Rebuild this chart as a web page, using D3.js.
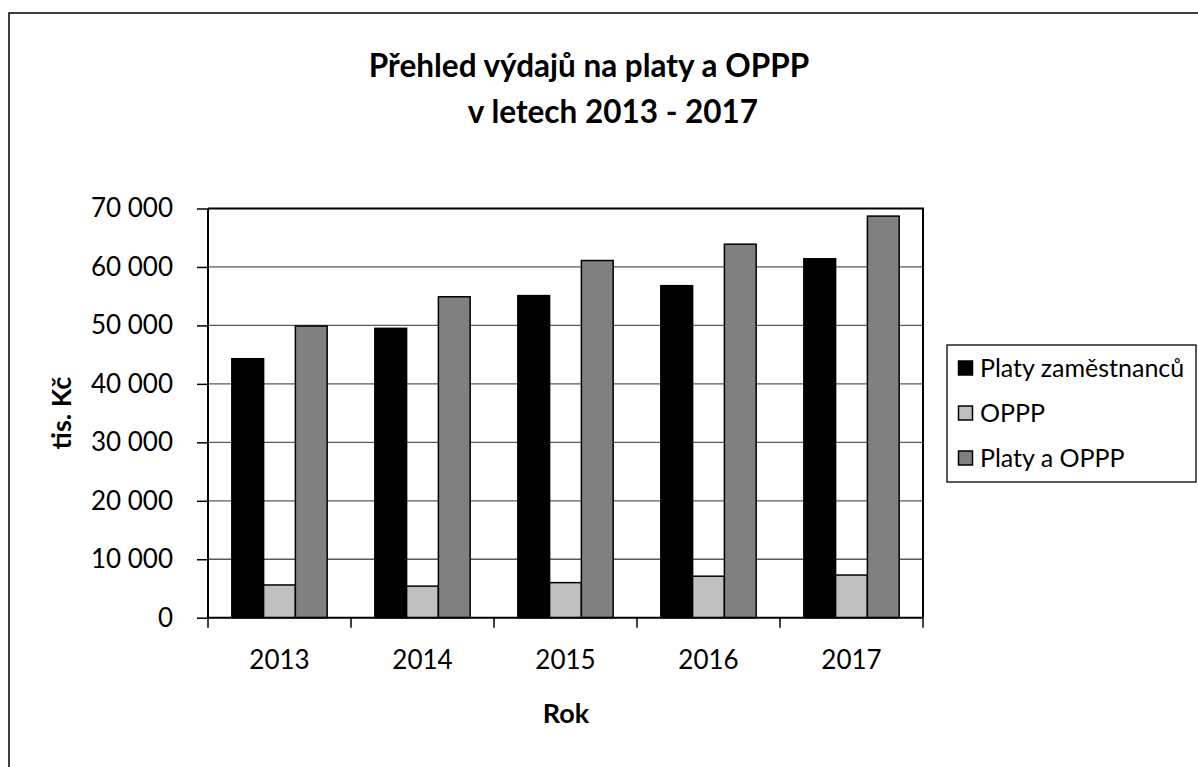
<!DOCTYPE html>
<html>
<head>
<meta charset="utf-8">
<script src="https://cdn.jsdelivr.net/npm/d3@7"></script>
<style>
  body { margin: 0; background: #fff; }
  svg { display: block; font-family: Lato, "Open Sans", sans-serif; }
</style>
</head>
<body>
<div id="chart"></div>
<script>
// data (tis. Kč)
const years = ["2013", "2014", "2015", "2016", "2017"]
const seriesNames = ["Platy zaměstnanců", "OPPP", "Platy a OPPP"]
const platy = [44300, 49500, 55100, 56800, 61400]
const oppp = [5600, 5400, 6000, 7100, 7300]
const platyAOppp = [49900, 54900, 61100, 63900, 68700]
const yTicks = [0, 10000, 20000, 30000, 40000, 50000, 60000, 70000]
const seriesColors = ["#000000", "#c0c0c0", "#808080"]

const W = 1198, H = 767
const plot = { left: 208, right: 923, top: 208.5, bottom: 617.7 }

const svg = d3.select("#chart").append("svg")
    .attr("width", W)
    .attr("height", H)

svg.append("rect").attr("width", W).attr("height", H).attr("fill", "#fff")

// chart area border
svg.append("rect")
    .attr("x", 9).attr("y", 13)
    .attr("width", W + 20).attr("height", H + 20)
    .attr("fill", "none")
    .attr("stroke", "#000")
    .attr("stroke-width", 1.5)

// title
svg.append("text")
    .attr("x", 589).attr("y", 77)
    .attr("text-anchor", "middle")
    .attr("font-weight", "bold")
    .attr("font-size", 31.5)
    .text("Přehled výdajů na platy a OPPP")
svg.append("text")
    .attr("x", 613).attr("y", 123)
    .attr("text-anchor", "middle")
    .attr("font-weight", "bold")
    .attr("font-size", 31.5)
    .text("v letech 2013 - 2017")

const x = d3.scaleBand()
    .domain(years)
    .range([plot.left, plot.right])
    .padding(0)

const xs = d3.scaleBand()
    .domain(seriesNames)
    .range([0, x.bandwidth()])
    .paddingInner(0)
    .paddingOuter(0.75)

const y = d3.scaleLinear()
    .domain([0, 70000])
    .range([plot.bottom, plot.top])

const loc = d3.formatLocale({ decimal: ",", thousands: "\u00a0", grouping: [3], currency: ["", ""] })
const fmt = loc.format(",d")

// gridlines
svg.append("g")
    .selectAll("line")
    .data(yTicks.filter(t => t > 0 && t < 70000))
    .join("line")
    .attr("x1", plot.left).attr("x2", plot.right)
    .attr("y1", d => y(d)).attr("y2", d => y(d))
    .attr("stroke", "#5a5a5a")
    .attr("stroke-width", 1.3)

// bars
const rows = years.map((yr, i) => ({ year: yr, values: [platy[i], oppp[i], platyAOppp[i]] }))

const groups = svg.append("g")
    .selectAll("g")
    .data(rows)
    .join("g")
    .attr("transform", d => `translate(${x(d.year)},0)`)

groups.selectAll("rect")
    .data(d => d.values.map((v, j) => ({ name: seriesNames[j], value: v, color: seriesColors[j] })))
    .join("rect")
    .attr("x", d => xs(d.name))
    .attr("width", xs.bandwidth())
    .attr("y", d => y(d.value))
    .attr("height", d => y(0) - y(d.value))
    .attr("fill", d => d.color)
    .attr("stroke", "#000")
    .attr("stroke-width", 1.5)

// plot frame (top + right)
svg.append("path")
    .attr("d", `M${plot.left},${plot.top}H${plot.right}V${plot.bottom}`)
    .attr("fill", "none")
    .attr("stroke", "#000")
    .attr("stroke-width", 2)

// y axis
const yAxis = svg.append("g")
    .attr("transform", `translate(${plot.left},0)`)
    .call(d3.axisLeft(y).tickValues(yTicks).tickSize(11).tickPadding(24).tickFormat(fmt))
yAxis.select(".domain").attr("stroke-width", 2).attr("d", `M0,${plot.top}V${plot.bottom}`)
yAxis.selectAll(".tick line").attr("stroke-width", 1.5)
yAxis.selectAll(".tick text")
    .attr("font-family", "Lato, sans-serif")
    .attr("font-size", 26)
    .attr("fill", "#000")

// x axis
const xAxis = svg.append("g")
    .attr("transform", `translate(0,${plot.bottom})`)
xAxis.append("line")
    .attr("x1", plot.left - 1).attr("x2", plot.right)
    .attr("stroke", "#000").attr("stroke-width", 2)
xAxis.selectAll(".xt")
    .data(years.map(d => x(d)).concat([plot.right]))
    .join("line")
    .attr("class", "xt")
    .attr("x1", d => d).attr("x2", d => d)
    .attr("y1", 0).attr("y2", 10)
    .attr("stroke", "#000").attr("stroke-width", 1.5)
xAxis.selectAll("text")
    .data(years)
    .join("text")
    .attr("x", d => x(d) + x.bandwidth() / 2)
    .attr("y", 51)
    .attr("text-anchor", "middle")
    .attr("font-size", 26)
    .text(d => d)

// axis titles
svg.append("text")
    .attr("x", 566).attr("y", 723)
    .attr("text-anchor", "middle")
    .attr("font-weight", "bold")
    .attr("font-size", 27)
    .text("Rok")
svg.append("text")
    .attr("transform", `translate(71,${(plot.top + plot.bottom) / 2}) rotate(-90)`)
    .attr("text-anchor", "middle")
    .attr("font-weight", "bold")
    .attr("font-size", 27)
    .text("tis. Kč")

// legend
const legend = svg.append("g").attr("transform", "translate(947,345)")
legend.append("rect")
    .attr("width", 249).attr("height", 137)
    .attr("fill", "#fff")
    .attr("stroke", "#000")
    .attr("stroke-width", 1.3)
const item = legend.selectAll(".item")
    .data(seriesNames)
    .join("g")
    .attr("class", "item")
    .attr("transform", (d, i) => `translate(0,${23 + i * 45})`)
item.append("rect")
    .attr("x", 11.5).attr("y", -7)
    .attr("width", 14).attr("height", 14)
    .attr("fill", (d, i) => seriesColors[i])
    .attr("stroke", "#000")
    .attr("stroke-width", 1.5)
item.append("text")
    .attr("x", 33)
    .attr("y", 8.5)
    .attr("font-size", 25)
    .text(d => d)
</script>
</body>
</html>
